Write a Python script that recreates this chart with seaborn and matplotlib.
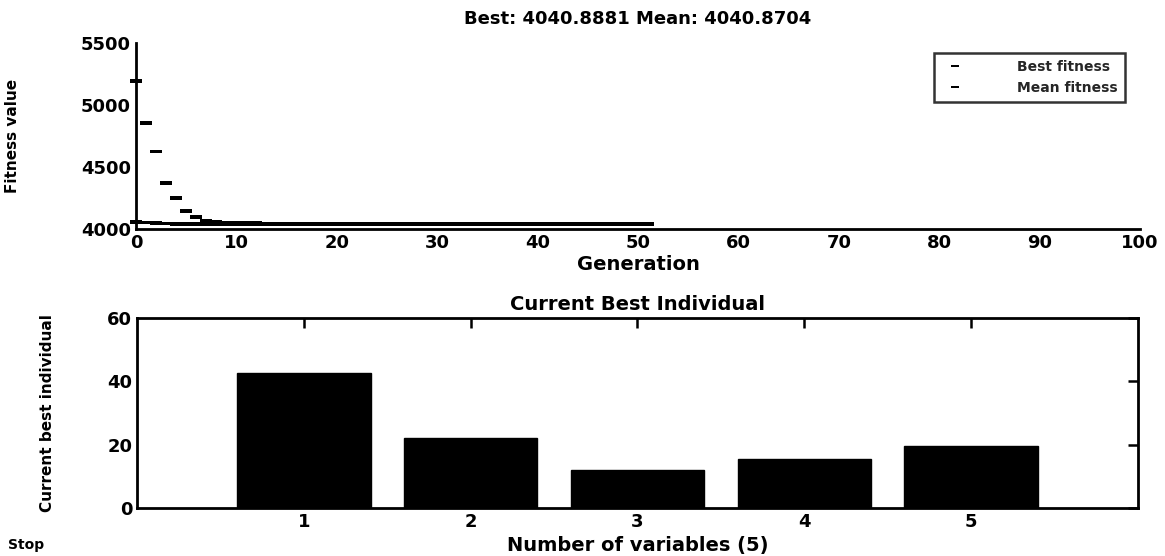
import matplotlib
matplotlib.use("Agg")
import matplotlib.pyplot as plt
import seaborn as sns
import pandas as pd

# ---------------- data ----------------
generations = list(range(52))
best_fitness = [4058, 4052, 4047, 4044, 4043, 4042, 4041.6, 4041.2, 4041.0, 4040.95,
                4040.92, 4040.9, 4040.9, 4040.89, 4040.89, 4040.89, 4040.89, 4040.89, 4040.89, 4040.89,
                4040.89, 4040.89, 4040.89, 4040.89, 4040.89, 4040.89, 4040.89, 4040.89, 4040.89, 4040.89,
                4040.89, 4040.89, 4040.89, 4040.89, 4040.89, 4040.89, 4040.89, 4040.89, 4040.89, 4040.89,
                4040.89, 4040.89, 4040.89, 4040.89, 4040.89, 4040.89, 4040.89, 4040.89, 4040.89, 4040.89,
                4040.89, 4040.89]
mean_fitness = [5194, 4857, 4624, 4373, 4253, 4145, 4099, 4065, 4058, 4047,
                4052, 4051, 4049, 4043, 4042, 4041.5, 4041.3, 4041.2, 4041.1, 4041.0,
                4041.0, 4040.95, 4040.93, 4040.92, 4040.9, 4040.9, 4040.9, 4040.88, 4040.88, 4040.88,
                4040.88, 4040.88, 4040.88, 4040.88, 4040.88, 4040.87, 4040.87, 4040.87, 4040.87, 4040.87,
                4040.87, 4040.87, 4040.87, 4040.87, 4040.87, 4040.87, 4040.87, 4040.87, 4040.87, 4040.87,
                4040.87, 4040.87]
variables = [1, 2, 3, 4, 5]
best_individual = [42.7, 22.0, 12.0, 15.5, 19.7]

title_text = "Best: 4040.8881 Mean: 4040.8704"
fit_xticks = [0, 10, 20, 30, 40, 50, 60, 70, 80, 90, 100]
fit_yticks = [4000, 4500, 5000, 5500]
ind_yticks = [0, 20, 40, 60]

# ---------------- style ----------------
sns.set_theme(style="white")
plt.rcParams["font.family"] = ["DejaVu Sans"]
plt.rcParams["font.weight"] = "bold"
FS = 13

fig = plt.figure(figsize=(11.65, 5.56), dpi=100)
ax1 = fig.add_axes([0.1167, 0.5881, 0.8618, 0.3346])
ax2 = fig.add_axes([0.1176, 0.0863, 0.8592, 0.3417])

# wide dash-like marker, as in the low-resolution reference
dash = [(-1.4, -0.45), (1.4, -0.45), (1.4, 0.45), (-1.4, 0.45), (-1.4, -0.45)]

# ---------------- top: fitness ----------------
df = pd.DataFrame({
    "Generation": generations * 2,
    "value": best_fitness + mean_fitness,
    "series": ["Best fitness"] * len(generations) + ["Mean fitness"] * len(generations),
})
sns.scatterplot(data=df, x="Generation", y="value", hue="series",
                palette={"Best fitness": "black", "Mean fitness": "black"},
                marker=dash, s=70, linewidth=0, ax=ax1, clip_on=False, zorder=3)
ax1.set_xlim(0, 100)
ax1.set_ylim(4000, 5500)
ax1.set_xticks(fit_xticks)
ax1.set_yticks(fit_yticks)
ax1.tick_params(direction="in", length=7, width=1.8, labelsize=FS, colors="black")
for s in ["top", "right"]:
    ax1.spines[s].set_visible(False)
for s in ["left", "bottom"]:
    ax1.spines[s].set_color("black")
    ax1.spines[s].set_linewidth(2)
ax1.set_xlabel("Generation", fontsize=FS + 1, fontweight="bold", color="black", labelpad=2)
ax1.set_ylabel("Fitness value", fontsize=FS - 2, fontweight="bold", color="black")
ax1.yaxis.set_label_coords(-0.115, 0.5)
ax1.set_title(title_text, fontsize=FS, fontweight="bold", color="black", pad=14)
leg = ax1.legend(loc="upper right", bbox_to_anchor=(0.985, 0.945), frameon=True,
                 fancybox=False, fontsize=FS - 3, handletextpad=3.5, borderpad=0.5,
                 markerscale=0.7, borderaxespad=0)
leg.get_frame().set_edgecolor("black")
leg.get_frame().set_linewidth(1.8)
leg.set_title(None)

# ---------------- bottom: best individual ----------------
sns.barplot(x=variables, y=best_individual, native_scale=True, color="black",
            saturation=1, width=0.8, edgecolor="black", ax=ax2)
ax2.set_xlim(0, 6)
ax2.set_ylim(0, 60)
ax2.set_xticks(variables)
ax2.set_xticklabels([str(v) for v in variables])
ax2.set_yticks(ind_yticks)
ax2.tick_params(direction="in", length=7, width=1.8, labelsize=FS, colors="black",
                top=True, right=True, bottom=False)
for s in ax2.spines.values():
    s.set_visible(True)
    s.set_color("black")
    s.set_linewidth(2)
ax2.set_xlabel("Number of variables (5)", fontsize=FS + 1, fontweight="bold", color="black", labelpad=4)
ax2.set_ylabel("Current best individual", fontsize=FS - 2, fontweight="bold", color="black")
ax2.yaxis.set_label_coords(-0.082, 0.5)
ax2.set_title("Current Best Individual", fontsize=FS + 1, fontweight="bold", color="black", pad=6)

fig.text(0.007, 0.012, "Stop", fontsize=FS - 3, fontweight="bold", color="black")

fig.savefig("out.png", dpi=100)
